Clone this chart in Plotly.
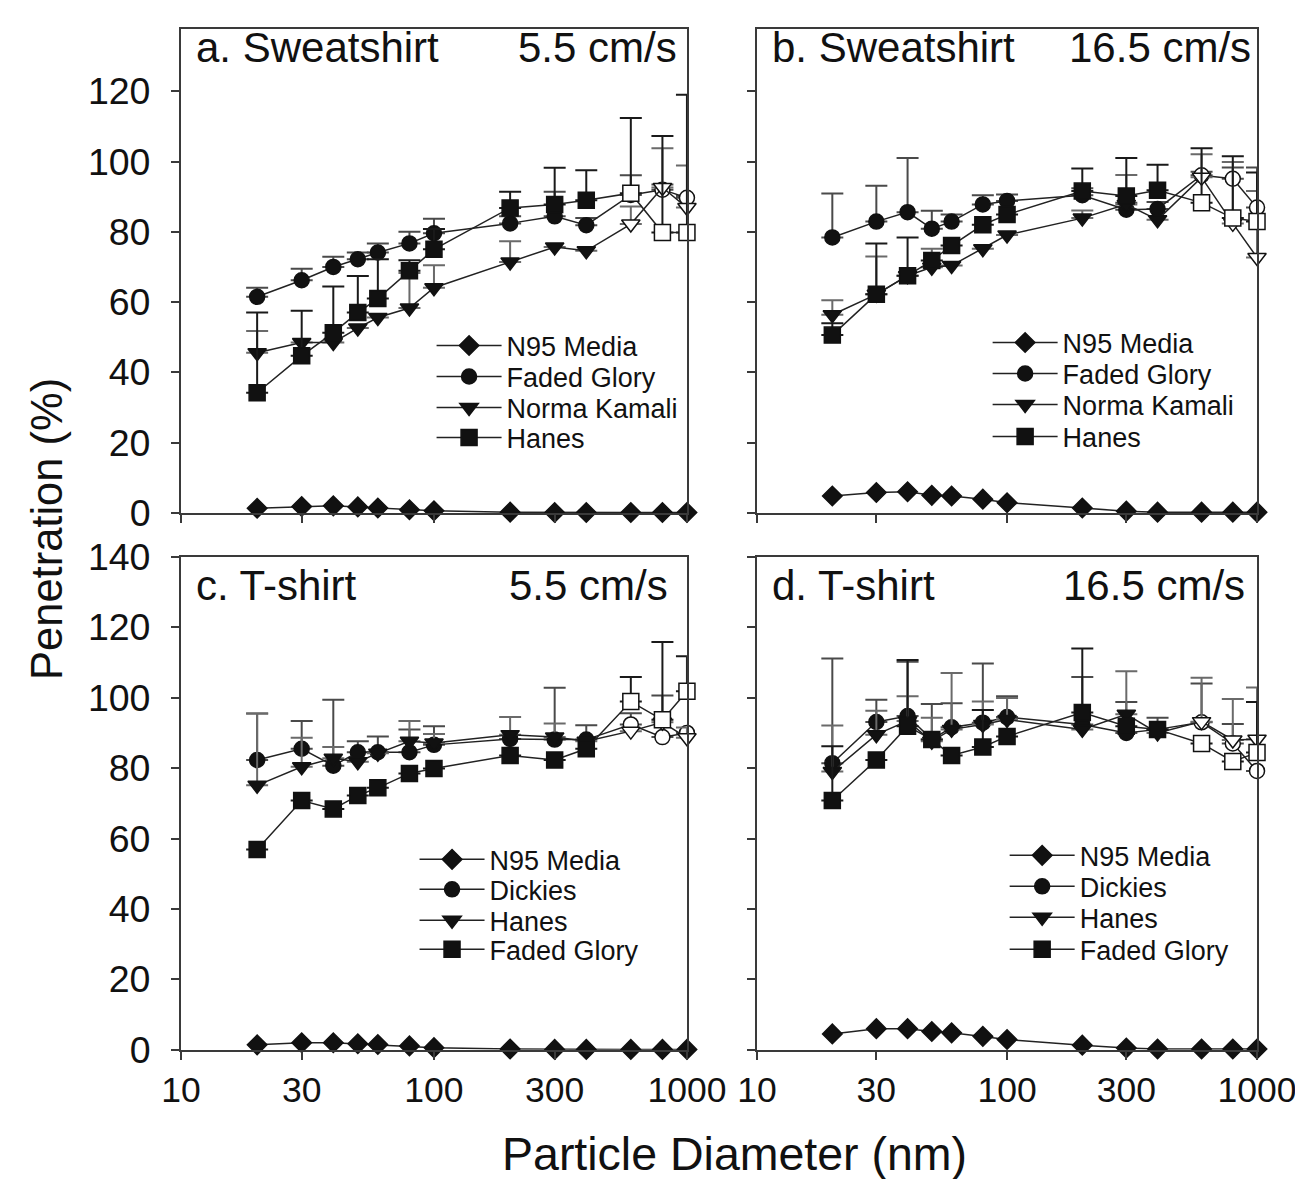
import plotly.graph_objects as go

# ---------------- data ----------------
diameter_nm = [20, 30, 40, 50, 60, 80, 100, 200, 300, 400, 600, 800, 1000]
x_tick_vals = [10, 30, 100, 300, 1000]
x_tick_text = ["10", "30", "100", "300", "1000"]
y_tick_vals = [0, 20, 40, 60, 80, 100, 120, 140]

# panel a: Sweatshirt 5.5 cm/s
a_n95 = [1.3, 1.8, 2.0, 1.7, 1.4, 0.9, 0.6, 0.2, 0.1, 0.1, 0.1, 0.1, 0.1]
a_faded = [61.5, 66.2, 70.0, 72.2, 74.1, 76.7, 79.6, 82.4, 84.4, 81.9, 90.5, 92.0, 89.7]
a_faded_err = [2.6, 3.3, 2.9, 1.9, 2.6, 3.3, 4.1, 2.0, 7.0, 2.0, 5.6, 1.5, 0.5]
a_norma = [45.6, 48.5, 48.5, 52.6, 55.6, 58.3, 64.1, 71.4, 75.7, 74.6, 82.2, 92.6, 86.9]
a_norma_err = [6.2, 0, 0, 0, 0, 10.0, 6.4, 5.9, 0, 0, 5.0, 11.2, 12.0]
a_hanes = [34.2, 44.7, 51.3, 57.0, 61.0, 68.9, 75.0, 86.8, 87.8, 89.0, 91.0, 79.8, 79.8]
a_hanes_err = [22.8, 12.8, 13.1, 10.4, 11.2, 3.0, 5.8, 4.6, 10.4, 8.5, 21.4, 27.5, 39.2]

# panel b: Sweatshirt 16.5 cm/s
b_n95 = [4.8, 5.8, 6.0, 5.0, 4.8, 3.9, 2.9, 1.4, 0.5, 0.2, 0.2, 0.2, 0.2]
b_faded = [78.4, 82.9, 85.6, 80.9, 82.9, 87.8, 88.8, 90.4, 86.3, 86.5, 96.1, 95.1, 86.9]
b_faded_err = [12.5, 10.2, 15.4, 5.1, 2.0, 2.6, 1.8, 2.0, 2.0, 2.0, 1.0, 3.2, 11.4]
b_norma = [56.4, 62.2, 67.5, 69.9, 70.4, 75.2, 79.1, 83.9, 87.8, 83.4, 95.5, 82.4, 72.7]
b_norma_err = [4.1, 10.8, 0, 5.3, 0, 0, 0, 2.2, 8.4, 0, 6.6, 17.5, 18.9]
b_hanes = [50.6, 62.2, 67.5, 71.8, 76.1, 82.0, 84.9, 91.6, 90.2, 91.8, 88.3, 83.9, 82.9]
b_hanes_err = [3.4, 14.5, 10.9, 0, 0, 0, 0, 6.4, 10.8, 7.3, 15.5, 17.6, 14.0]

# panel c: T-shirt 5.5 cm/s
c_n95 = [1.4, 2.0, 2.0, 1.7, 1.5, 1.1, 0.6, 0.2, 0.1, 0.1, 0.1, 0.1, 0.1]
c_dickies = [82.3, 85.5, 80.7, 84.5, 84.5, 84.5, 86.6, 88.3, 88.1, 88.1, 92.4, 88.8, 90.0]
c_dickies_err = [13.2, 7.9, 18.7, 3.1, 4.5, 6.5, 5.3, 0, 14.7, 4.1, 3.2, 11.8, 0]
c_hanes = [75.1, 80.4, 82.8, 81.8, 84.2, 87.6, 87.1, 89.5, 88.8, 87.6, 90.5, 93.0, 88.6]
c_hanes_err = [20.4, 8.2, 3.2, 0, 0, 5.8, 2.6, 5.0, 3.9, 0, 0, 0, 2.9]
c_faded = [56.9, 70.8, 68.4, 72.2, 74.4, 78.5, 79.9, 83.6, 82.3, 85.5, 98.9, 93.7, 101.8]
c_faded_err = [0, 0, 0, 0, 0, 0, 0, 0, 0, 0, 7.0, 22.1, 10.0]

# panel d: T-shirt 16.5 cm/s
d_n95 = [4.5, 6.0, 6.0, 5.2, 4.8, 3.8, 2.9, 1.3, 0.5, 0.2, 0.2, 0.2, 0.2]
d_dickies = [81.4, 93.1, 94.8, 88.1, 91.6, 92.9, 94.5, 92.4, 90.0, 91.0, 93.0, 87.0, 79.2]
d_dickies_err = [29.7, 6.3, 15.4, 10.1, 6.8, 16.8, 5.9, 13.5, 8.8, 3.3, 11.0, 5.5, 0]
d_hanes = [79.0, 89.5, 93.4, 87.6, 91.0, 92.4, 93.8, 91.0, 95.3, 90.0, 93.2, 88.0, 88.2]
d_hanes_err = [13.1, 6.8, 7.0, 6.7, 16.0, 6.5, 6.1, 0, 12.2, 0, 12.5, 11.6, 14.7]
d_faded = [70.8, 82.3, 91.9, 88.1, 83.6, 86.0, 89.0, 95.8, 91.9, 91.0, 87.0, 81.9, 84.4]
d_faded_err = [15.4, 0, 18.8, 0, 0, 10.5, 0, 18.2, 0, 0, 0, 0, 14.4]

panel_titles = ["a. Sweatshirt", "b. Sweatshirt", "c. T-shirt", "d. T-shirt"]
panel_speeds = ["5.5 cm/s", "16.5 cm/s", "5.5 cm/s", "16.5 cm/s"]
y_title = "Penetration (%)"
x_title = "Particle Diameter (nm)"
open_from_nm = 600   # points at and above this size are drawn as open symbols

# ---------------- layout helpers ----------------
W, H = 1335, 1192
# the photographed page is shown offset/scaled: shown = off + scale * page
SX, OFFX = 0.954, 27.3
SY, OFFY = 0.965, 28.0
FONT = "Liberation Sans, Arial, sans-serif"
AXC = "#3a3a3a"
INK = "#111111"


def page_x(p):
    return (p - OFFX) / SX


def page_y(p):
    return (p - OFFY) / SY


def rx(p):
    return min(1.0, max(0.0, page_x(p) / W))


def ry(p):
    return min(1.0, max(0.0, 1 - page_y(p) / H))


fig = go.Figure()

panels = [
    ("", [
        ("N95 Media", a_n95, None, "diamond", 15),
        ("Faded Glory", a_faded, a_faded_err, "circle", 15),
        ("Norma Kamali", a_norma, a_norma_err, "triangle-down", 16),
        ("Hanes", a_hanes, a_hanes_err, "square", 16),
    ]),
    ("2", [
        ("N95 Media", b_n95, None, "diamond", 15),
        ("Faded Glory", b_faded, b_faded_err, "circle", 15),
        ("Norma Kamali", b_norma, b_norma_err, "triangle-down", 16),
        ("Hanes", b_hanes, b_hanes_err, "square", 16),
    ]),
    ("3", [
        ("N95 Media", c_n95, None, "diamond", 15),
        ("Dickies", c_dickies, c_dickies_err, "circle", 15),
        ("Hanes", c_hanes, c_hanes_err, "triangle-down", 16),
        ("Faded Glory", c_faded, c_faded_err, "square", 16),
    ]),
    ("4", [
        ("N95 Media", d_n95, None, "diamond", 15),
        ("Dickies", d_dickies, d_dickies_err, "circle", 15),
        ("Hanes", d_hanes, d_hanes_err, "triangle-down", 16),
        ("Faded Glory", d_faded, d_faded_err, "square", 16),
    ]),
]

# legend placement (reference pixels): text start x and row centres
legend_text_x = [505, 1060, 488, 1077]
legend_rows = [[345, 376, 407, 437], [342, 373, 404, 436],
               [859, 889, 920, 949], [855, 886, 917, 949]]
ITEMW = 65

err_colors = {"circle": "#4a4a4a", "triangle-down": "#6a6a6a", "square": "#1a1a1a"}

legend_layouts = {}
n_leg = 0
for k, (suffix, series) in enumerate(panels):
    for j, (name, vals, errs, sym, size) in enumerate(series):
        n_leg += 1
        leg_id = "legend" if n_leg == 1 else "legend%d" % n_leg
        if sym == "diamond":
            fills = [INK] * len(diameter_nm)
        else:
            fills = ["#ffffff" if d >= open_from_nm else INK for d in diameter_nm]
        tr = dict(
            x=diameter_nm, y=vals, name=name, mode="lines+markers",
            xaxis="x" + suffix, yaxis="y" + suffix, legend=leg_id,
            cliponaxis=False, showlegend=True,
            line=dict(color="#222222", width=1.5),
            marker=dict(symbol=sym, size=size, color=fills,
                        line=dict(color=INK, width=1.5)),
        )
        if errs is not None:
            tr["error_y"] = dict(type="data", symmetric=False, array=errs,
                                 arrayminus=[0] * len(errs),
                                 color=err_colors[sym], thickness=2, width=11)
        fig.add_trace(go.Scatter(**tr))
        lx_page = page_x(legend_text_x[k]) - ITEMW - 13.5
        legend_layouts[leg_id] = dict(
            font=dict(family=FONT, size=27, color=INK),
            bgcolor="rgba(0,0,0,0)", borderwidth=0, visible=True,
            x=lx_page / W, xanchor="left",
            y=ry(legend_rows[k][j]), yanchor="middle",
            itemwidth=ITEMW, tracegroupgap=0)

fig.update_layout(**legend_layouts)

# axes
x_dom_left = [rx(180), rx(685)]
x_dom_right = [rx(755), rx(1254)]
y_dom_top = [ry(512), 1.0]
y_dom_bot = [ry(1049), ry(556)]
# top row: frame top cannot reach the reference's 140 line; keep the same px/unit
top_range_max = 140 * page_y(512) / (page_y(512) - page_y(20))

common = dict(showline=True, linecolor=AXC, linewidth=2, mirror=True,
              ticks="outside", ticklen=8, tickwidth=2, tickcolor=AXC,
              showgrid=False, zeroline=False)

layout_axes = {}
specs = [("", x_dom_left, y_dom_top, False, True, top_range_max),
         ("2", x_dom_right, y_dom_top, False, False, top_range_max),
         ("3", x_dom_left, y_dom_bot, True, True, 140),
         ("4", x_dom_right, y_dom_bot, True, False, 140)]
for suffix, xd, yd, xlab, ylab, ymax in specs:
    layout_axes["xaxis" + suffix] = dict(
        common, type="log", range=[1, 3], domain=xd, anchor="y" + suffix,
        tickvals=x_tick_vals, ticktext=x_tick_text, showticklabels=xlab,
        ticklabelstandoff=0,
        tickfont=dict(family=FONT, size=35.5, color=INK))
    layout_axes["yaxis" + suffix] = dict(
        common, range=[0, ymax], domain=yd, anchor="x" + suffix,
        tickvals=y_tick_vals, showticklabels=ylab, ticklabelstandoff=13,
        tickfont=dict(family=FONT, size=37.5, color=INK))

fig.update_layout(**layout_axes)

# annotations: panel titles + axis titles
ann = []
title_pos = [(193, 677, 47), (768, 1250, 47), (193, 668, 585), (768, 1244, 585)]
for (xl, xr, yc), t, s in zip(title_pos, panel_titles, panel_speeds):
    ann.append(dict(text=t, x=rx(xl), y=ry(yc), xref="paper", yref="paper",
                    xanchor="left", yanchor="middle", showarrow=False,
                    font=dict(family=FONT, size=42, color=INK)))
    ann.append(dict(text=s, x=rx(xr), y=ry(yc), xref="paper", yref="paper",
                    xanchor="right", yanchor="middle", showarrow=False,
                    font=dict(family=FONT, size=42, color=INK)))
ann.append(dict(text=y_title, x=20 / W, y=ry(528), xref="paper", yref="paper",
                xanchor="center", yanchor="middle", textangle=-90, showarrow=False,
                font=dict(family=FONT, size=43.5, color=INK)))
ann.append(dict(text=x_title, x=rx(732), y=ry(1153), xref="paper", yref="paper",
                xanchor="center", yanchor="middle", showarrow=False,
                font=dict(family=FONT, size=46.5, color=INK)))

fig.update_layout(
    annotations=ann,
    showlegend=True,
    width=W, height=H, autosize=False,
    margin=dict(l=0, r=0, t=0, b=0, pad=0),
    paper_bgcolor="white", plot_bgcolor="white",
    font=dict(family=FONT, color=INK),
)

fig.write_html("out.html")
